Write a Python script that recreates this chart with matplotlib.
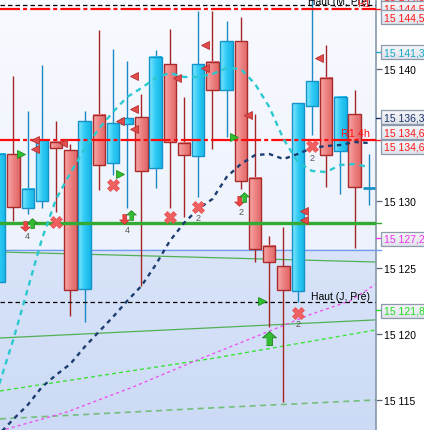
import numpy as np
import matplotlib
matplotlib.use("Agg")
import matplotlib.pyplot as plt
from matplotlib.patches import Rectangle
from matplotlib.colors import LinearSegmentedColormap
from matplotlib.ticker import FuncFormatter

plt.rcParams['font.family'] = ['Liberation Sans', 'DejaVu Sans']
plt.rcParams['lines.scale_dashes'] = False

#------------------------------------------------
# candles (index 0..26), prices
opens = [15123.91, 15133.58, 15129.50, 15130.03, 15134.49, 15133.88, 15123.38, 15136.53, 15132.90, 15135.85,
         15136.37, 15132.52, 15140.38, 15134.41, 15133.43, 15140.53, 15138.41, 15142.11, 15131.77, 15126.63,
         15125.12, 15123.23, 15137.21, 15139.32, 15133.81, 15136.60, 15131.01]
highs = [15133.58, 15139.47, 15136.83, 15140.30, 15136.07, 15134.34, 15136.83, 15142.95, 15141.51, 15140.60,
         15138.11, 15141.44, 15143.02, 15137.89, 15144.38, 15144.38, 15143.63, 15143.93, 15136.60, 15127.39,
         15128.07, 15137.43, 15145.60, 15141.81, 15137.96, 15138.41, 15133.58]
lows = [15123.91, 15128.52, 15129.05, 15129.50, 15129.20, 15121.34, 15120.89, 15130.86, 15131.99, 15129.50,
        15123.61, 15131.01, 15129.50, 15128.82, 15130.33, 15133.96, 15134.86, 15130.94, 15125.42, 15120.51,
        15114.85, 15122.40, 15135.02, 15131.09, 15130.56, 15126.48, 15129.73]
closes = [15133.58, 15129.58, 15130.94, 15134.64, 15134.03, 15123.31, 15136.07, 15132.75, 15135.92, 15136.30,
          15132.30, 15140.91, 15134.49, 15133.50, 15140.38, 15138.41, 15142.11, 15131.54, 15126.40, 15125.42,
          15123.31, 15137.43, 15139.09, 15133.50, 15137.89, 15131.09, 15131.01]

# moving averages, one value per candle
ma_fast = [15116.21, 15119.61, 15123.38, 15127.16, 15130.18, 15132.14, 15133.96, 15135.47, 15136.75, 15137.89,
           15138.56, 15139.32, 15139.70, 15139.40, 15139.40, 15139.62, 15140.08, 15140.00, 15138.87, 15137.13,
           15134.71, 15132.98, 15132.30, 15132.22, 15132.75, 15132.82, 15132.60]
ma_slow = [15112.43, 15113.56, 15114.62, 15115.98, 15116.89, 15117.72, 15119.00, 15120.14, 15121.27, 15122.48,
           15123.61, 15125.20, 15127.01, 15128.37, 15129.43, 15130.18, 15131.84, 15132.82, 15133.50, 15133.58,
           15133.20, 15133.58, 15134.03, 15134.18, 15134.26, 15134.49, 15134.41]

# horizontal levels
lvl_top_black = 15144.83
lvl_r1 = 15144.53
lvl_r1_4h = 15134.64
lvl_green = 15128.37
lvl_blue = 15126.33
lvl_haut_j = 15122.40

# sloping lines (x = bar index, y = price)
trend1_x, trend1_y = [0.05, 26.51], [15126.18, 15125.42]
trend2_x, trend2_y = [0.05, 26.51], [15119.68, 15121.05]
green_dash_x, green_dash_y = [0.05, 14.97, 26.51], [15115.68, 15118.13, 15120.29]
pale_dash_x, pale_dash_y = [0.05, 14.97, 26.51], [15113.57, 15114.40, 15115.00]
magenta_x = [0.05, 4.76, 9.41, 14.12, 17.64, 22.01, 24.68, 26.51]
magenta_y = [15112.66, 15114.09, 15115.98, 15118.10, 15119.61, 15121.50, 15122.48, 15123.76]

# signals
tri_left_x = [2.5, 2.5, 4.5, 8.5, 9.5, 9.5, 9.5, 12.5, 14.5, 14.5, 17.5, 22.5, 21.45, 21.45]
tri_left_y = [15134.64, 15133.96, 15134.41, 15136.07, 15139.47, 15136.98, 15135.47, 15139.32, 15141.81,
              15140.08, 15136.53, 15140.83, 15129.27, 15128.59]
tri_right_x = [1.5, 8.5, 16.5, 18.5]
tri_right_y = [15133.58, 15132.07, 15134.86, 15122.48]
cross_x = [4.0, 8.0, 12.0, 14.0, 22.0, 21.0]
cross_y = [15128.44, 15131.24, 15128.82, 15129.58, 15134.18, 15121.57]
down_x = [1.8, 8.8, 16.85]
down_y = [15128.14, 15128.67, 15130.03]
up_x = [2.3, 9.3, 17.25]
up_y = [15128.37, 15129.0, 15130.33]
big_up_x, big_up_y = [19.0], [15119.68]
count_txt = ['4', '4', '2', '2', '2', '2']
count_x = [2.0, 9.0, 17.0, 14.0, 22.0, 21.0]
count_y = [15127.39, 15127.84, 15129.27, 15128.75, 15133.35, 15120.74]

# right-hand price boxes
box_text = ['15 144,5', '15 144,5', '15 144,5', '15 141,3', '15 136,3', '15 134,6', '15 134,6', '15 127,2', '15 121,8']
box_pos = [15145.51, 15144.61, 15143.93, 15141.28, 15136.37, 15135.24, 15134.11, 15127.16, 15121.72]
box_col = ['#ff1a1a', '#ff1a1a', '#ff1a1a', '#1aa8c8', '#1a2f6a', '#ff1a1a', '#ff1a1a', '#ee33ee', '#22dd22']
mark_val = [15144.53, 15141.3, 15136.3, 15134.64, 15128.37, 15126.33, 15127.2, 15121.8]
mark_col = ['#ff1a1a', '#1aa8c8', '#1a2f6a', '#ff1a1a', '#33aa33', '#6c9cf0', '#ee33ee', '#22dd22']
price_ticks = [15115, 15120, 15125, 15130, 15140]

XMIN, XMAX = 0.05, 26.51
YMIN, YMAX = 15112.73, 15145.29

#------------------------------------------------
fig = plt.figure(figsize=(4.24, 4.31), dpi=100, facecolor='white')
ax = fig.add_axes([0, 0, 376 / 424, 1])
ax2 = fig.add_axes([376 / 424, 0, 48 / 424, 1])
ax.set_facecolor('white')


def gradient(axis, extent, colors, vertical=True, z=0):
    cmap = LinearSegmentedColormap.from_list('g', colors)
    g = np.linspace(0, 1, 64)
    arr = g.reshape(-1, 1) if vertical else g.reshape(1, -1)
    axis.imshow(arr, extent=extent, cmap=cmap, aspect='auto', interpolation='bilinear', zorder=z)


# background: pale above the blue level, blue shading below
gradient(ax, [XMIN, XMAX, lvl_blue, YMAX], ['#f8faff', '#edf2fc'], z=0)
gradient(ax, [XMIN, XMAX, YMIN, lvl_blue], ['#d9e4f9', '#ccdaf5'], z=0)

# sloping lines behind candles
ax.plot(trend1_x, trend1_y, color='#3aa83a', lw=0.9, alpha=0.85, zorder=1)
ax.plot(trend2_x, trend2_y, color='#3aa83a', lw=0.9, alpha=0.85, zorder=1)
ax.plot(green_dash_x, green_dash_y, color='#3de23d', lw=1.0, ls=(0, (2.9, 2.2)), zorder=1)
ax.plot(pale_dash_x, pale_dash_y, color='#5cb85c', lw=1.2, alpha=0.8, ls=(0, (4.3, 3.2)), zorder=1)
ax.plot(magenta_x, magenta_y, color='#ee55ee', lw=1.0, ls=(0, (2.2, 2.2)), zorder=1)
ax.axhline(lvl_blue, color='#6c9cf0', lw=0.9, zorder=1)

# candles
bw = 0.87
for i in range(len(opens)):
    o, h, l, c = opens[i], highs[i], lows[i], closes[i]
    bull = c >= o
    wick = '#1b8ac4' if bull else '#a52525'
    edge = '#1592c8' if bull else '#a82a2a'
    ax.plot([i, i], [l, h], color=wick, lw=1.0, zorder=2, solid_capstyle='butt')
    lo, hi = min(o, c), max(o, c)
    if hi - lo < 0.05:
        ax.plot([i - bw / 2, i + bw / 2], [lo, lo], color=edge, lw=2.0, zorder=3, solid_capstyle='butt')
        continue
    cols = ['#86e8ff', '#30caf5', '#16b6e8'] if bull else ['#f6aaaa', '#ee8282', '#e16666']
    gradient(ax, [i - bw / 2, i + bw / 2, lo, hi], cols, vertical=False, z=3)
    ax.add_patch(Rectangle((i - bw / 2, lo), bw, hi - lo, fill=False, ec=edge, lw=1.0, zorder=3.1))

# level lines
red_ls = (0, (14.4, 2.2, 2.9, 2.2))
ax.axhline(lvl_top_black, color='black', lw=0.9, ls=(0, (3.2, 2.2)), zorder=4)
ax.axhline(lvl_r1, color='#ff0d0d', lw=1.6, ls=red_ls, zorder=4)
ax.axhline(lvl_r1_4h, color='#ff0d0d', lw=1.6, ls=red_ls, zorder=4)
ax.axhline(lvl_haut_j, color='black', lw=0.9, ls=(0, (3.2, 2.2)), zorder=4)
ax.axhline(lvl_green, color='#33aa33', lw=2.4, zorder=4.2)

# moving averages
idx = np.arange(len(ma_fast))
ax.plot(idx, ma_fast, color='#2bc9cf', lw=1.7, ls=(0, (4.0, 3.4)), zorder=4.5)
ax.plot(idx, ma_slow, color='#1c3d70', lw=1.7, ls=(0, (3.2, 3.2)), zorder=4.5)

# signal markers
up_arrow = [(-0.22, -0.5), (0.22, -0.5), (0.22, 0.05), (0.5, 0.05), (0, 0.5), (-0.5, 0.05), (-0.22, 0.05)]
down_arrow = [(x, -y) for x, y in up_arrow]
ax.plot(tri_left_x, tri_left_y, ls='none', marker='<', ms=5.5, mfc='#e34a4a', mec='#b53030', mew=0.6, zorder=5)
ax.plot(tri_right_x, tri_right_y, ls='none', marker='>', ms=5.5, mfc='#2fbf2f', mec='#1f8f1f', mew=0.6, zorder=5)
ax.plot(cross_x, cross_y, ls='none', marker='X', ms=8, mfc='#f06060', mec='#e85050', mew=0.5, zorder=5)
ax.plot(down_x, down_y, ls='none', marker=down_arrow, ms=7, mfc='#ee4444', mec='#c03030', mew=0.5, zorder=5)
ax.plot(up_x, up_y, ls='none', marker=up_arrow, ms=7, mfc='#33bb33', mec='#1f7f1f', mew=0.5, zorder=5)
ax.plot(big_up_x, big_up_y, ls='none', marker=up_arrow, ms=10, mfc='#33bb33', mec='#1f7f1f', mew=0.6, zorder=5)
for t, x, y in zip(count_txt, count_x, count_y):
    ax.text(x, y, t, fontsize=6.5, color='#5a5550', ha='center', va='center', zorder=6)

# level captions
ax.text(26.09, 15144.95, 'Haut (M, Pré)', fontsize=7.5, color='black', ha='right', va='baseline', zorder=6)
ax.text(26.09, 15144.75, 'R1', fontsize=7.5, color='#ff2020', ha='right', va='baseline', zorder=6.1)
ax.text(26.09, 15134.94, 'R1 4h', fontsize=7.8, color='#ff1010', ha='right', va='baseline', zorder=6)
ax.text(26.09, 15122.65, 'Haut (J, Pré)', fontsize=7.5, color='black', ha='right', va='baseline', zorder=6)

ax.set_xlim(XMIN, XMAX)
ax.set_ylim(YMIN, YMAX)
for s in ['left', 'top', 'bottom']:
    ax.spines[s].set_visible(False)
ax.spines['right'].set_color('#8797a8')
ax.spines['right'].set_linewidth(1.2)
ax.tick_params(axis='x', bottom=False, labelbottom=False)
ax.yaxis.tick_right()
ax.set_yticks(price_ticks)
ax.yaxis.set_major_formatter(FuncFormatter(lambda v, p: '%d %03d' % (int(v) // 1000, int(v) % 1000)))
ax.tick_params(axis='y', direction='out', length=4, width=0.9, color='#556070', labelsize=7.5, pad=2,
               labelcolor='black')

# right panel: coloured ticks and value boxes
ax2.set_axis_off()
for v, c in zip(mark_val, mark_col):
    ax2.plot([0, 5], [v, v], color=c, lw=1.0, zorder=1)
bh = 14 / 13.24
for k, (t, p, c) in enumerate(zip(box_text, box_pos, box_col)):
    z = 2 + k * 0.1
    gradient(ax2, [5, 70, p - bh / 2, p + bh / 2], ['#f6f7fa', '#dfe3ea'], z=z)
    ax2.add_patch(Rectangle((5, p - bh / 2), 65, bh, fill=False, ec='#8c9aab', lw=0.9, zorder=z + 0.01))
    ax2.text(8.5, p, t, fontsize=7.5, color=c, ha='left', va='center', zorder=z + 0.02)
ax2.set_xlim(0, 48)
ax2.set_ylim(YMIN, YMAX)

fig.savefig('out.png', dpi=100, facecolor='white')
